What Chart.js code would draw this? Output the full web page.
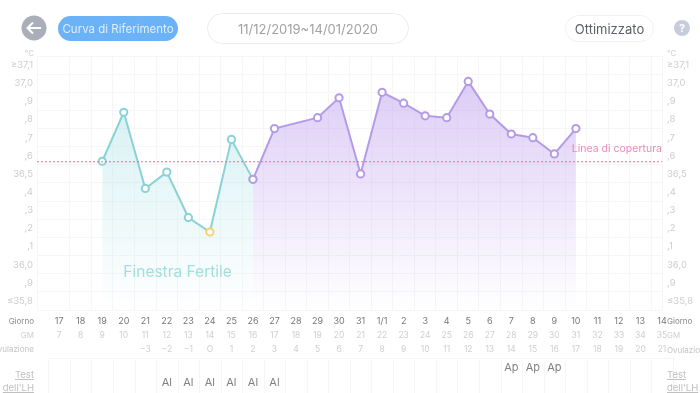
<!DOCTYPE html>
<html>
<head>
<meta charset="utf-8">
<script src="https://cdn.jsdelivr.net/npm/chart.js@4"></script>
<style>
    html, body { margin: 0; padding: 0; background: #fff; overflow: hidden; }
    body { width: 700px; height: 393px; position: relative; font-family: Inter, "Noto Sans", sans-serif; }
    #chart { position: absolute; left: 0; top: 0; }
    .abs { position: absolute; white-space: nowrap; box-sizing: border-box; }
    .pill { display: flex; align-items: center; justify-content: center; border-radius: 16px; }
    .side { font-size: 8px; line-height: 11px; color: #aaa; }
    .left { right: 666px; text-align: right; }
    .right { left: 667px; }
    .lh { font-size: 9.5px; line-height: 13px; color: #c0c0c0; text-decoration: underline; }
</style>
</head>
<body>
<canvas id="chart" width="700" height="393"></canvas>

<svg class="abs" style="left:21px;top:15px" width="26" height="26">
    <circle cx="13" cy="13" r="12.5" fill="#a9aeb9"/>
    <path d="M20 13H7M12 7.5L6.5 13L12 18.5" fill="none" stroke="#fff" stroke-width="2"/>
</svg>
<div class="abs pill" style="left:58px;top:16px;width:120px;height:25px;background:#6cb2f6;color:#dfeefd;font-size:11.5px">Curva di Riferimento</div>
<div class="abs pill" style="left:207px;top:13px;width:202px;height:31px;border:1.5px solid #e9ecef;color:#a2a2a2;font-size:13px">11/12/2019~14/01/2020</div>
<div class="abs pill" style="left:565px;top:15px;width:89px;height:27px;border:1px solid #f0f0f0;color:#5c5f66;font-size:13px">Ottimizzato</div>
<div class="abs pill" style="left:674px;top:20px;width:16px;height:16px;background:#c6ccdc;color:#fff;font-size:11px;font-weight:700">?</div>

<div class="abs side left" style="top:48px;color:#d0d0d0">°C</div>
<div class="abs side right" style="top:48px;color:#d0d0d0">°C</div>
<div class="abs side left" style="top:316px;color:#888">Giorno</div>
<div class="abs side right" style="top:316px;color:#888">Giorno</div>
<div class="abs side left" style="top:330px;color:#cfcfcf">GM</div>
<div class="abs side right" style="top:330px;color:#cfcfcf">GM</div>
<div class="abs side left" style="top:344px;color:#c4c4c4">Ovulazione</div>
<div class="abs side right" style="top:345px;color:#c4c4c4">Ovulazione</div>
<div class="abs lh left" style="top:368px">Test<br>dell'LH</div>
<div class="abs lh right" style="top:368px">Test<br>dell'LH</div>

<script>
const dayLabels = ['17','18','19','20','21','22','23','24','25','26','27','28','29','30','31','1/1','2','3','4','5','6','7','8','9','10','11','12','13','14'];
const gmLabels = ['7','8','9','10','11','12','13','14','15','16','17','18','19','20','21','22','23','24','25','26','27','28','29','30','31','32','33','34','35'];
const ovulationLabels = ['','','','','−3','−2','−1','O','1','2','3','4','5','6','7','8','9','10','11','12','13','14','15','16','17','18','19','20','21'];
const lhHighLabels = ['','','','','','','','','','','','','','','','','','','','','','Ap','Ap','Ap','','','','',''];
const lhLowLabels = ['','','','','','Al','Al','Al','Al','Al','Al','','','','','','','','','','','','','','','','','',''];

const fertileValues = [null,null,36.57,36.84,36.42,36.51,36.26,36.18,36.69,36.47];
const lutealValues = [null,null,null,null,null,null,null,null,null,36.47,36.75,null,36.81,36.92,36.50,36.95,36.89,36.82,36.81,37.01,36.83,36.72,36.70,36.61,36.75];
const coverageValue = 36.567;
const ovulationDay = '24';

const yTickValues = [37.1,37.0,36.9,36.8,36.7,36.6,36.5,36.4,36.3,36.2,36.1,36.0,35.9,35.8];
const yTickLabels = ['≥37,1','37,0',',9',',8',',7',',6','36,5',',4',',3',',2',',1','36,0',',9','≤35,8'];

const xMin = -1.03, xMax = 28;
const yMin = 35.75, yMax = 37.15;

function toPoints(values) {
    return values.map((v, i) => ({ x: i, y: v })).filter(p => p.y !== null);
}

function areaGradient(top, from, to) {
    return (ctx) => {
        const area = ctx.chart.chartArea;
        if (!area) return from;
        const g = ctx.chart.ctx.createLinearGradient(0, top, 0, area.bottom);
        g.addColorStop(0, from);
        g.addColorStop(1, to);
        return g;
    };
}

// bottom rows are just stacked linear axes sharing the same range
function rowAxis(labels, height, padding, color, size) {
    return {
        type: 'linear',
        position: 'bottom',
        min: xMin,
        max: xMax,
        afterBuildTicks: (axis) => { axis.ticks = labels.map((l, i) => ({ value: i })); },
        afterFit: (axis) => { axis.height = height; },
        grid: { display: false, drawTicks: false },
        border: { display: false },
        ticks: {
            autoSkip: false,
            maxRotation: 0,
            padding: padding,
            color: color,
            font: { size: size, family: 'Inter' },
            callback: (value) => labels[value]
        }
    };
}

const gridColor = '#f6f6f7';

const labelPlugin = {
    id: 'chartLabels',
    afterDatasetsDraw(chart) {
        const c = chart.ctx;
        const x = chart.scales.xDay;
        const y = chart.scales.y;
        c.save();
        c.textBaseline = 'middle';
        c.fillStyle = '#e88bbd';
        c.font = '10.5px Inter';
        c.textAlign = 'right';
        c.fillText('Linea di copertura', x.getPixelForValue(xMax), y.getPixelForValue(36.64));
        c.fillStyle = '#a3dede';
        c.font = '15.5px Inter';
        c.textAlign = 'left';
        c.fillText('Finestra Fertile', x.getPixelForValue(2.98), y.getPixelForValue(35.96));

        // LH table cells
        c.strokeStyle = gridColor;
        c.lineWidth = 1;
        c.beginPath();
        for (let i = 0; i <= dayLabels.length; i++) {
            const px = Math.round(x.getPixelForValue(i - 0.5)) + 0.5;
            c.moveTo(px, 358);
            c.lineTo(px, 393);
        }
        const first = x.getPixelForValue(-0.5);
        const last = x.getPixelForValue(dayLabels.length - 0.5);
        c.moveTo(first, 358.5);
        c.lineTo(last, 358.5);
        c.stroke();
        c.restore();
    }
};

new Chart(document.getElementById('chart'), {
    type: 'line',
    data: {
        datasets: [
            {
                label: 'Linea di copertura',
                data: [{ x: xMin, y: coverageValue }, { x: xMax, y: coverageValue }],
                xAxisID: 'xDay',
                borderColor: '#d9709a',
                borderWidth: 1,
                borderDash: [2, 2],
                pointRadius: 0,
                order: 0
            },
            {
                label: 'Finestra Fertile',
                data: toPoints(fertileValues),
                xAxisID: 'xDay',
                borderColor: '#8ad2d6',
                borderWidth: 2,
                backgroundColor: areaGradient(110, 'rgba(190,232,236,0.6)', 'rgba(190,232,236,0)'),
                fill: 'start',
                tension: 0,
                pointRadius: 3.6,
                pointBorderWidth: 2,
                pointBackgroundColor: '#fff',
                pointBorderColor: (ctx) => dayLabels[ctx.parsed ? ctx.parsed.x : 0] === ovulationDay ? '#f5d26f' : '#8ad2d6',
                order: 2
            },
            {
                label: 'Curva',
                data: toPoints(lutealValues),
                xAxisID: 'xDay',
                spanGaps: true,
                borderColor: '#b49be6',
                borderWidth: 2,
                backgroundColor: areaGradient(85, 'rgba(190,160,238,0.52)', 'rgba(190,160,238,0)'),
                fill: 'start',
                tension: 0,
                pointRadius: 3.6,
                pointBorderWidth: 2,
                pointBackgroundColor: '#fff',
                pointBorderColor: '#b49be6',
                order: 1
            }
        ]
    },
    plugins: [labelPlugin],
    options: {
        responsive: false,
        animation: false,
        layout: { padding: { top: 56, left: 0, right: 0, bottom: 0 } },
        plugins: { legend: { display: false }, tooltip: { enabled: false } },
        scales: {
            xGrid: {
                type: 'linear',
                position: 'top',
                min: xMin,
                max: xMax,
                afterBuildTicks: (axis) => {
                    const t = [{ value: xMin }];
                    for (let i = 0; i < dayLabels.length - 1; i++) t.push({ value: i + 0.5 });
                    t.push({ value: xMax });
                    axis.ticks = t;
                },
                afterFit: (axis) => { axis.height = 0; },
                grid: { color: gridColor, drawTicks: false },
                border: { display: false },
                ticks: { display: false }
            },
            xDay: rowAxis(dayLabels, 18, 6, '#777', 9),
            xGM: rowAxis(gmLabels, 14, 2, '#cfcfcf', 8.5),
            xOv: rowAxis(ovulationLabels, 14, 2, '#cfcfcf', 8.5),
            xAp: rowAxis(lhHighLabels, 18, 5, '#808080', 11),
            xAl: rowAxis(lhLowLabels, 19, 2, '#808080', 11),
            yGrid: {
                type: 'linear',
                position: 'left',
                min: yMin,
                max: yMax,
                afterBuildTicks: (axis) => {
                    const t = [];
                    for (let i = 0; i <= yTickValues.length; i++) t.push({ value: yMin + i * 0.1 });
                    axis.ticks = t;
                },
                afterFit: (axis) => { axis.width = 0; },
                grid: { color: gridColor, drawTicks: false },
                border: { display: false },
                ticks: { display: false }
            },
            y: {
                type: 'linear',
                position: 'left',
                min: yMin,
                max: yMax,
                afterBuildTicks: (axis) => { axis.ticks = yTickValues.map(v => ({ value: v })); },
                afterFit: (axis) => { axis.width = 37; },
                grid: { display: false, drawTicks: false },
                border: { display: false },
                ticks: {
                    autoSkip: false,
                    padding: 4,
                    color: '#cdcdcd',
                    font: { size: 9.5, family: 'Inter' },
                    callback: (value, index) => yTickLabels[index]
                }
            },
            y2: {
                type: 'linear',
                position: 'right',
                min: yMin,
                max: yMax,
                afterBuildTicks: (axis) => { axis.ticks = yTickValues.map(v => ({ value: v })); },
                afterFit: (axis) => { axis.width = 38; },
                grid: { display: false, drawTicks: false },
                border: { display: false },
                ticks: {
                    autoSkip: false,
                    padding: 5,
                    color: '#cdcdcd',
                    font: { size: 9.5, family: 'Inter' },
                    callback: (value, index) => yTickLabels[index]
                }
            }
        }
    }
});
</script>
</body>
</html>
